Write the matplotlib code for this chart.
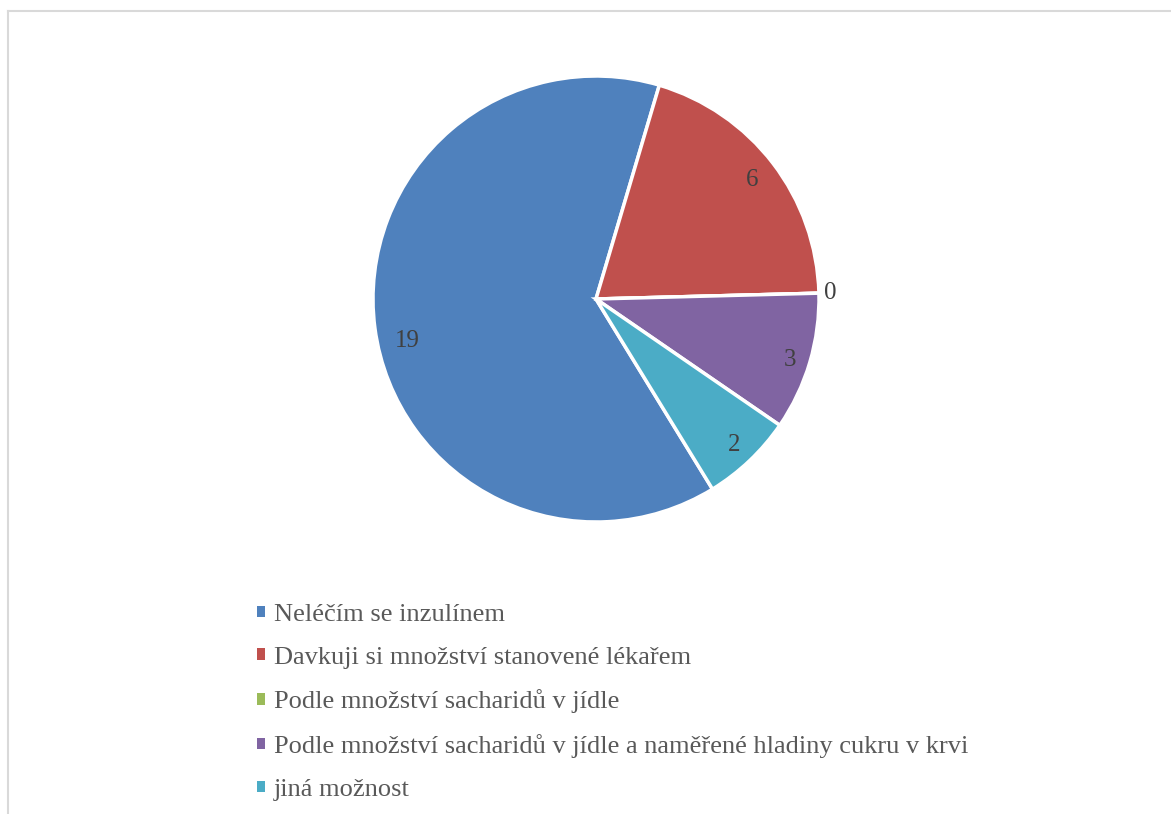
import numpy as np
import matplotlib
matplotlib.use('Agg')
import matplotlib.pyplot as plt
from matplotlib.lines import Line2D
from matplotlib.patches import Patch

plt.rcParams['font.family'] = ['Liberation Serif', 'DejaVu Serif']

# data
categories = [
    'Neléčím se inzulínem',
    'Davkuji si množství stanovené lékařem',
    'Podle množství sacharidů v jídle',
    'Podle množství sacharidů v jídle a naměřené hladiny cukru v krvi',
    'jiná možnost',
]
values = [19, 6, 0, 3, 2]
colors = ['#4F81BD', '#C0504D', '#9BBB59', '#8064A2', '#4BACC6']
label_dist = [0.865, 0.88, 1.05, 0.91, 0.90]
label_shift = [5, 0, 0, -1, 0]  # degrees, nudges like Excel "best fit"

fig = plt.figure(figsize=(11.71, 8.14), dpi=100)
ax = fig.add_axes([(596 - 223) / 1171, 1 - (299 + 223) / 814, 446 / 1171, 446 / 814])

wedges, _ = ax.pie(values, colors=colors, startangle=-58.5, counterclock=False,
                   wedgeprops=dict(edgecolor='white', linewidth=2.5))
ax.set_xlim(-1, 1)
ax.set_ylim(-1, 1)
ax.set_aspect('equal')

# data labels at wedge midpoints
for w, v, d, s in zip(wedges, values, label_dist, label_shift):
    mid = np.deg2rad((w.theta1 + w.theta2) / 2 + s)
    ax.text(d * np.cos(mid), d * np.sin(mid), str(v), ha='center', va='center',
            fontsize=18, color='#404040')

# legend
handles = [Patch(facecolor=c, edgecolor='none') for c in colors]
fig.legend(handles, categories, loc='upper left', bbox_to_anchor=(257 / 1171, 1 - 604 / 814),
           frameon=False, fontsize=19, labelcolor='#595959', handlelength=0.3,
           handleheight=0.3, handletextpad=0.35, labelspacing=0.785, borderpad=0,
           borderaxespad=0)

# light frame
fig.add_artist(Line2D([7.5 / 1171, 1], [1 - 10.5 / 814] * 2, color='#d9d9d9', linewidth=1.5))
fig.add_artist(Line2D([7.5 / 1171] * 2, [0, 1 - 10.5 / 814], color='#d9d9d9', linewidth=1.5))

fig.savefig('out.png', dpi=100)
